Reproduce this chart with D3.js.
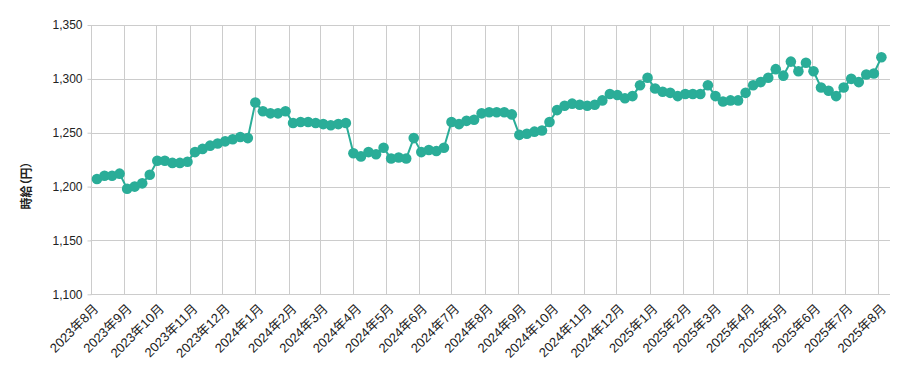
<!DOCTYPE html>
<html>
<head>
<meta charset="utf-8">
<script src="https://cdn.jsdelivr.net/npm/d3@7"></script>
<style>
  html, body { margin: 0; padding: 0; background: #fff; }
  svg { display: block; }
  text { font-family: "Liberation Sans", Arial, "Noto Sans CJK JP", sans-serif; }
</style>
</head>
<body>
<svg id="chart" width="909" height="371"></svg>
<script>
// ---- data ----
const firstDate = "2023-08-07";          // first weekly observation (Monday)
const weekStepDays = 7;
const wages = [
  1207, 1210, 1210, 1212, 1198, 1200, 1203, 1211, 1224, 1224,
  1222, 1222, 1223, 1232, 1235, 1238, 1240, 1242, 1244, 1246,
  1245, 1278, 1270, 1268, 1268, 1270, 1259, 1260, 1260, 1259,
  1258, 1257, 1258, 1259, 1231, 1228, 1232, 1230, 1236, 1226,
  1227, 1226, 1245, 1232, 1234, 1233, 1236, 1260, 1258, 1261,
  1262, 1268, 1269, 1269, 1269, 1267, 1248, 1249, 1251, 1252,
  1260, 1271, 1275, 1277, 1276, 1275, 1276, 1280, 1286, 1285,
  1282, 1284, 1294, 1301, 1291, 1288, 1287, 1284, 1286, 1286,
  1286, 1294, 1284, 1279, 1280, 1280, 1287, 1294, 1297, 1301,
  1309, 1303, 1316, 1307, 1315, 1307, 1292, 1289, 1284, 1292,
  1300, 1297, 1304, 1305, 1320
];
const xDomain = ["2023-08-01", "2025-08-12"];
const monthTicksRange = ["2023-08-01", "2025-08-02"];
const yTicks = [1100, 1150, 1200, 1250, 1300, 1350];
const yTitle = "時給（円）";

// ---- layout ----
const W = 909, H = 371;
const m = { left: 90.5, right: 890, top: 25, bottom: 294.3 };
const color = "#2aad98";
const grid = "#cccccc";

const parse = d3.utcParse("%Y-%m-%d");
const start = parse(firstDate);
const data = wages.map((v, i) => ({ date: d3.utcDay.offset(start, i * weekStepDays), value: v }));

const x = d3.scaleUtc().domain(xDomain.map(parse)).range([m.left, m.right]);
const y = d3.scaleLinear().domain([1100, 1350]).range([m.bottom, m.top]);

const svg = d3.select("#chart");

// horizontal grid
svg.append("g").selectAll("line").data(yTicks).join("line")
  .attr("x1", m.left).attr("x2", m.right)
  .attr("y1", d => Math.round(y(d)) + 0.5).attr("y2", d => Math.round(y(d)) + 0.5)
  .attr("stroke", grid).attr("stroke-width", 1);

// vertical month grid
const months = d3.utcMonth.range(parse(monthTicksRange[0]), parse(monthTicksRange[1]));
svg.append("g").selectAll("line").data(months).join("line")
  .attr("x1", d => Math.round(x(d)) + 0.5).attr("x2", d => Math.round(x(d)) + 0.5)
  .attr("y1", m.top).attr("y2", m.bottom)
  .attr("stroke", grid).attr("stroke-width", 1);

// y axis (ticks + labels)
const yAxis = d3.axisLeft(y).tickValues(yTicks).tickSize(4).tickPadding(5)
  .tickFormat(d3.format(","));
const gy = svg.append("g").attr("transform", `translate(${Math.round(m.left) + 0.5},0)`).call(yAxis);
gy.select(".domain").remove();
gy.selectAll(".tick line").attr("stroke", grid);
gy.selectAll(".tick text").attr("fill", "#222").style("font-size", "12px")
  .style("font-family", '"Liberation Sans", Arial, sans-serif');

// x axis labels
const fmt = d => `${d.getUTCFullYear()}年${d.getUTCMonth() + 1}月`;
const xAxis = d3.axisBottom(x).tickValues(months).tickSize(0).tickFormat(fmt);
const gx = svg.append("g").attr("transform", `translate(0,${m.bottom})`).call(xAxis);
gx.select(".domain").remove();
gx.selectAll(".tick text")
  .attr("fill", "#222")
  .style("font-size", "13px")
  .style("font-family", '"Liberation Sans", Arial, "Noto Sans CJK JP", sans-serif')
  .attr("text-anchor", "end")
  .attr("y", 0).attr("dy", "0.35em")
  .attr("transform", "translate(5,12) rotate(-45)");

// y title
svg.append("text")
  .attr("transform", `translate(31,${H / 2}) rotate(-90)`)
  .attr("text-anchor", "middle")
  .style("font-size", "12px")
  .style("font-weight", "bold")
  .style("font-family", '"Noto Sans CJK JP", sans-serif')
  .style("font-feature-settings", '"palt"')
  .attr("fill", "#222")
  .text(yTitle);

// line
const line = d3.line().x(d => x(d.date)).y(d => y(d.value));
svg.append("path").datum(data)
  .attr("d", line).attr("fill", "none")
  .attr("stroke", color).attr("stroke-width", 2);

// dots
svg.append("g").selectAll("circle").data(data).join("circle")
  .attr("cx", d => x(d.date)).attr("cy", d => y(d.value))
  .attr("r", 5.3).attr("fill", color);
</script>
</body>
</html>
